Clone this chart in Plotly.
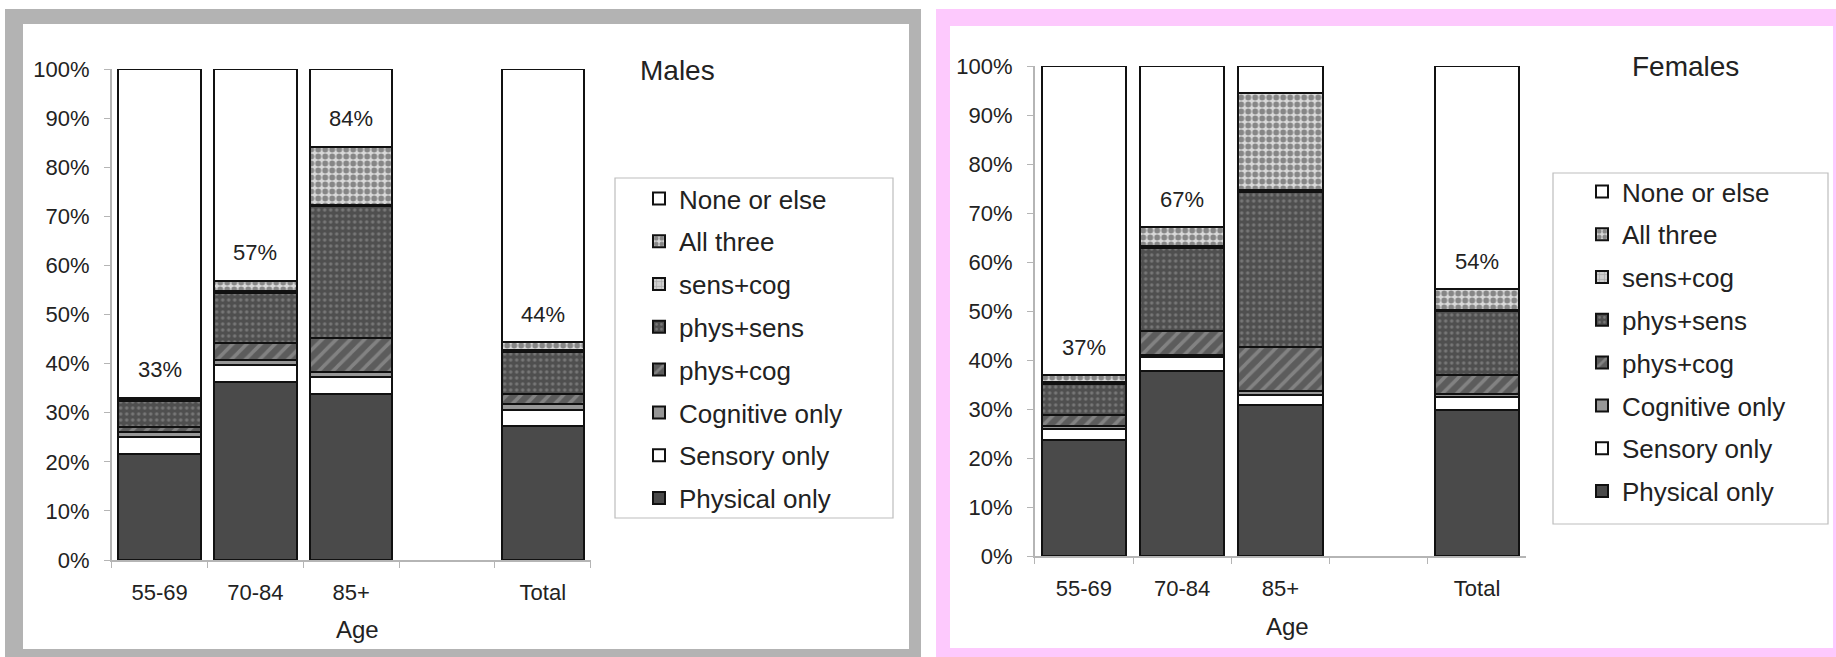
import plotly.graph_objects as go

W, H = 1836, 657

categories = ["55-69", "70-84", "85+", " ", "Total"]
series_names = ["Physical only", "Sensory only", "Cognitive only", "phys+cog",
                "phys+sens", "sens+cog", "All three", "None or else"]

# Males (percent), bottom -> top
m_physical = [21.5, 36.2, 33.9, None, 27.2]
m_sensory = [3.5, 3.6, 3.3, None, 3.4]
m_cognitive = [1.0, 0.9, 1.1, None, 1.1]
m_phys_cog = [1.0, 3.4, 7.0, None, 2.1]
m_phys_sens = [5.3, 10.2, 26.8, None, 8.5]
m_sens_cog = [0.3, 0.5, 0.3, None, 0.5]
m_all_three = [0.4, 2.1, 11.8, None, 1.5]
m_none = [67.0, 43.1, 15.8, None, 55.7]
m_labels = [33, 57, 84, None, 44]

# Females (percent), bottom -> top
f_physical = [23.7, 37.7, 30.9, None, 29.8]
f_sensory = [2.3, 3.0, 1.9, None, 2.6]
f_cognitive = [0.6, 0.4, 0.9, None, 0.6]
f_phys_cog = [2.1, 4.9, 8.9, None, 3.9]
f_phys_sens = [6.5, 16.9, 31.7, None, 13.0]
f_sens_cog = [0.4, 0.3, 0.4, None, 0.4]
f_all_three = [1.3, 3.9, 19.8, None, 4.1]
f_none = [63.1, 32.9, 5.5, None, 45.6]
f_labels = [37, 67, 94, None, 54]

yticks = list(range(0, 101, 10))
ytick_text = [f"{v}%" for v in yticks]

# styles
styles = [
    dict(color="#4a4a4a"),
    dict(color="#ffffff"),
    dict(color="#979797"),
    dict(color="#5c5c5c", pattern=dict(shape="/", fgcolor="#a8a8a8", size=10, solidity=0.35)),
    dict(color="#4f4f4f", pattern=dict(shape=".", fgcolor="#a0a0a0", size=6, solidity=0.25)),
    dict(color="#cfcfcf", pattern=dict(shape="+", fgcolor="#8a8a8a", size=6, solidity=0.3)),
    dict(color="#d9d9d9", pattern=dict(shape=".", fgcolor="#333333", size=7, solidity=0.55)),
    dict(color="#ffffff"),
]

FONT = "Arial, Liberation Sans, sans-serif"
TXT = "#222222"


def px(x):
    return x / W


def py(y):
    return 1 - y / H


fig = go.Figure()

panels = [
    dict(name="m", data=[m_physical, m_sensory, m_cognitive, m_phys_cog, m_phys_sens,
                         m_sens_cog, m_all_three, m_none],
         labels=m_labels, xaxis="x", yaxis="y", legend="legend"),
    dict(name="f", data=[f_physical, f_sensory, f_cognitive, f_phys_cog, f_phys_sens,
                         f_sens_cog, f_all_three, f_none],
         labels=f_labels, xaxis="x2", yaxis="y2", legend="legend2"),
]

n = len(series_names)
for p in panels:
    for i, (nm, vals) in enumerate(zip(series_names, p["data"])):
        mk = dict(styles[i])
        mk["line"] = dict(color="#111111", width=[0 if v is None else 2 for v in vals])
        fig.add_trace(go.Bar(
            x=categories, y=vals, name=nm, marker=mk,
            xaxis=p["xaxis"], yaxis=p["yaxis"], legend=p["legend"],
            legendgroup=p["name"] + str(i), legendrank=n - i, hoverinfo="skip",
        ))

annotations = []
for p in panels:
    for cat, lab, nn in zip(categories, p["labels"], p["data"][-1]):
        if lab is None:
            continue
        top = 100 - nn
        yv = top + 5.7
        if yv > 96:
            yv = 103.3
        annotations.append(dict(
            x=cat, y=yv, xref=p["xaxis"], yref=p["yaxis"], text=f"{lab}%",
            showarrow=False, xanchor="center", yanchor="middle",
            font=dict(size=22, color=TXT, family=FONT),
        ))


def label(x, y, text, size):
    return dict(x=px(x), y=py(y), xref="paper", yref="paper", text=text, showarrow=False,
                xanchor="center", yanchor="middle", font=dict(size=size, color=TXT, family=FONT))


annotations += [
    label(677, 71, "Males", 28),
    label(1685, 66, "Females", 28),
    label(357, 629, "Age", 24),
    label(1287, 626, "Age", 24),
]

shapes = [
    # gray frame (males)
    dict(type="rect", xref="paper", yref="paper", x0=px(5), x1=px(921), y0=py(670), y1=py(9),
         fillcolor="#b3b3b3", line=dict(width=0), layer="below"),
    dict(type="rect", xref="paper", yref="paper", x0=px(23), x1=px(909), y0=py(649), y1=py(24),
         fillcolor="#ffffff", line=dict(width=0), layer="below"),
    # pink frame (females)
    dict(type="rect", xref="paper", yref="paper", x0=px(936), x1=px(1850), y0=py(670), y1=py(9),
         fillcolor="#fdc9fd", line=dict(width=0), layer="below"),
    dict(type="rect", xref="paper", yref="paper", x0=px(950), x1=px(1833), y0=py(648), y1=py(26),
         fillcolor="#ffffff", line=dict(width=0), layer="below"),
    # legend boxes
    dict(type="rect", xref="paper", yref="paper", x0=px(615), x1=px(893), y0=py(518), y1=py(178),
         fillcolor="rgba(0,0,0,0)", line=dict(width=1.2, color="#bdbdbd"), layer="below"),
    dict(type="rect", xref="paper", yref="paper", x0=px(1553), x1=px(1828), y0=py(524), y1=py(173),
         fillcolor="rgba(0,0,0,0)", line=dict(width=1.2, color="#bdbdbd"), layer="below"),
]

axis_common = dict(showline=True, linecolor="#b5b5b5", linewidth=1.5, ticks="outside",
                   tickcolor="#b5b5b5", ticklen=6, showgrid=False, zeroline=False,
                   tickfont=dict(size=22, color=TXT, family=FONT), fixedrange=True,
                   automargin=False)

xaxis_common = dict(axis_common, type="category", categoryorder="array",
                    categoryarray=categories, tickson="boundaries", ticklabelstandoff=12)
yaxis_common = dict(axis_common, range=[0, 100], tickmode="array", tickvals=yticks,
                    ticktext=ytick_text, ticklabelstandoff=10)

legend_common = dict(font=dict(size=26, color=TXT, family=FONT), bgcolor="rgba(0,0,0,0)",
                     borderwidth=0, traceorder="grouped", tracegroupgap=6,
                     xanchor="left", yanchor="top")

fig.update_layout(
    width=W, height=H, autosize=False,
    margin=dict(l=0, r=0, t=0, b=0, pad=0, autoexpand=False),
    paper_bgcolor="#ffffff", plot_bgcolor="rgba(0,0,0,0)",
    barmode="stack", bargap=0.14,
    showlegend=True,
    xaxis=dict(xaxis_common, domain=[px(111.7), px(590.7)], anchor="y"),
    yaxis=dict(yaxis_common, domain=[py(560), py(69)], anchor="x"),
    xaxis2=dict(xaxis_common, domain=[px(1034.7), px(1526.2)], anchor="y2"),
    yaxis2=dict(yaxis_common, domain=[py(556), py(66)], anchor="x2"),
    legend=dict(legend_common, x=px(639), y=py(175)),
    legend2=dict(legend_common, x=px(1582), y=py(168)),
    annotations=annotations,
    shapes=shapes,
    font=dict(family=FONT, color=TXT),
)

fig.write_html(
    "out.html",
    config={"displayModeBar": False},
    post_script="document.body.style.margin='0';document.body.style.overflow='hidden';",
)
